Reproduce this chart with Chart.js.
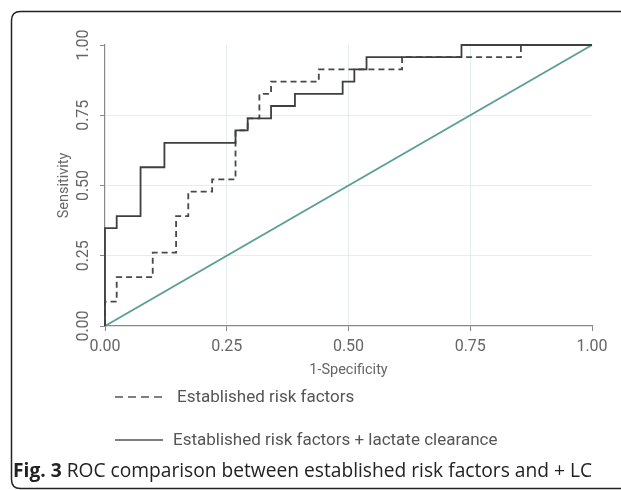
<!DOCTYPE html>
<html>
<head>
<meta charset="utf-8">
<script src="https://cdn.jsdelivr.net/npm/chart.js@4.4.1/dist/chart.umd.min.js"></script>
<style>
  html, body { margin: 0; padding: 0; background: #fff; }
  #wrap { position: relative; width: 621px; height: 490px; overflow: hidden; background: #fff; }
  #chartBox { position: absolute; left: 0; top: 0; width: 621px; height: 490px; }
  .leg { position: absolute; font-family: 'Roboto', 'Liberation Sans', sans-serif; font-size: 17px; color: #555; white-space: nowrap; line-height: 17px; }
  #caption { position: absolute; left: 13px; top: 460px; font-family: 'Open Sans', 'Noto Sans', sans-serif; font-size: 19.2px; color: #222; white-space: nowrap; line-height: 19px; }
  #caption b { font-weight: 700; }
</style>
</head>
<body>
<div id="wrap">
  <svg width="621" height="490" style="position:absolute;left:0;top:0;pointer-events:none">
    <path d="M 640 11.5 L 20.5 11.5 Q 11.5 11.5 11.5 20.5 L 11.5 479.5 Q 11.5 488.5 20.5 488.5 L 640 488.5" fill="none" stroke="#222" stroke-width="1.5"/>
  </svg>
  <div id="chartBox"><canvas id="c"></canvas></div>
  <svg width="621" height="490" style="position:absolute;left:0;top:0;pointer-events:none">
    <line x1="115" y1="397" x2="167" y2="397" stroke="#555" stroke-width="1.6" stroke-dasharray="8,5"/>
    <line x1="115" y1="440" x2="163" y2="440" stroke="#555" stroke-width="1.6"/>
  </svg>
  <div class="leg" style="left:177px; top:388px;">Established risk factors</div>
  <div class="leg" style="left:173px; top:431px;">Established risk factors + lactate clearance</div>
  <div id="caption"><b>Fig. 3</b> ROC comparison between established risk factors and + LC</div>
</div>
<script>
// ROC data (x = 1-specificity, y = sensitivity)
const establishedFpr = [0, 0, 0.024, 0.098, 0.146, 0.171, 0.220, 0.268, 0.293, 0.317, 0.341, 0.439, 0.610, 0.854, 1];
const establishedTpr = [0, 0.087, 0.174, 0.261, 0.391, 0.478, 0.522, 0.696, 0.739, 0.826, 0.870, 0.913, 0.957, 1, 1];
const lactateFpr = [0, 0, 0.024, 0.073, 0.122, 0.268, 0.293, 0.341, 0.390, 0.488, 0.512, 0.537, 0.732, 1];
const lactateTpr = [0, 0.348, 0.391, 0.565, 0.652, 0.696, 0.739, 0.783, 0.826, 0.870, 0.913, 0.957, 1, 1];
const refFpr = [0, 1];
const refTpr = [0, 1];
const tickValues = [0, 0.25, 0.5, 0.75, 1];
const xTitle = '1-Specificity';
const yTitle = 'Sensitivity';

const toPts = (xs, ys) => xs.map((x, i) => ({ x: x, y: ys[i] }));
const tickFont = { family: "'Roboto', 'Liberation Sans', sans-serif", size: 16 };
const titleFont = { family: "'Roboto', 'Liberation Sans', sans-serif", size: 14.5 };
const gridColor = (ctx) => (ctx.tick && ctx.tick.value > 0 && ctx.tick.value < 1) ? '#e3eeed' : 'rgba(0,0,0,0)';

new Chart(document.getElementById('c'), {
  type: 'scatter',
  data: {
    datasets: [
      { label: 'Reference', data: toPts(refFpr, refTpr), showLine: true, borderColor: '#5c9f96', borderWidth: 2, pointRadius: 0, order: 3 },
      { label: 'Established risk factors', data: toPts(establishedFpr, establishedTpr), showLine: true, stepped: 'before', borderColor: '#484848', borderWidth: 1.8, borderDash: [6, 4], pointRadius: 0, order: 2 },
      { label: 'Established risk factors + lactate clearance', data: toPts(lactateFpr, lactateTpr), showLine: true, stepped: 'before', borderColor: '#3f3f3f', borderWidth: 1.8, pointRadius: 0, order: 1 }
    ]
  },
  options: {
    responsive: true,
    maintainAspectRatio: false,
    animation: false,
    events: [],
    clip: false,
    layout: { padding: { left: 56, top: 45, right: 29, bottom: 104 } },
    plugins: { legend: { display: false }, tooltip: { enabled: false } },
    scales: {
      x: {
        type: 'linear', min: 0, max: 1,
        afterBuildTicks: (s) => { s.ticks = tickValues.map(v => ({ value: v })); },
        afterFit: (s) => { s.height = 60; },
        ticks: { font: tickFont, color: '#666', padding: 6, maxRotation: 0, callback: (v) => Number(v).toFixed(2) },
        grid: { color: gridColor, tickColor: '#888', tickLength: 5, lineWidth: 1 },
        border: { color: '#888', width: 1.2 },
        title: { display: true, text: xTitle, font: titleFont, color: '#666', padding: { top: 0, bottom: 7 } }
      },
      y: {
        type: 'linear', min: 0, max: 1,
        afterBuildTicks: (s) => { s.ticks = tickValues.map(v => ({ value: v })); },
        afterFit: (s) => { s.width = 49; },
        ticks: { font: tickFont, color: '#666', padding: 0, minRotation: 90, maxRotation: 90, crossAlign: 'center', callback: (v) => Number(v).toFixed(2) },
        grid: { color: gridColor, tickColor: '#888', tickLength: 5, lineWidth: 1 },
        border: { color: '#888', width: 1.2 },
        title: { display: true, text: yTitle, font: titleFont, color: '#666', padding: { top: 0, bottom: 0 } }
      }
    }
  }
});
</script>
</body>
</html>
